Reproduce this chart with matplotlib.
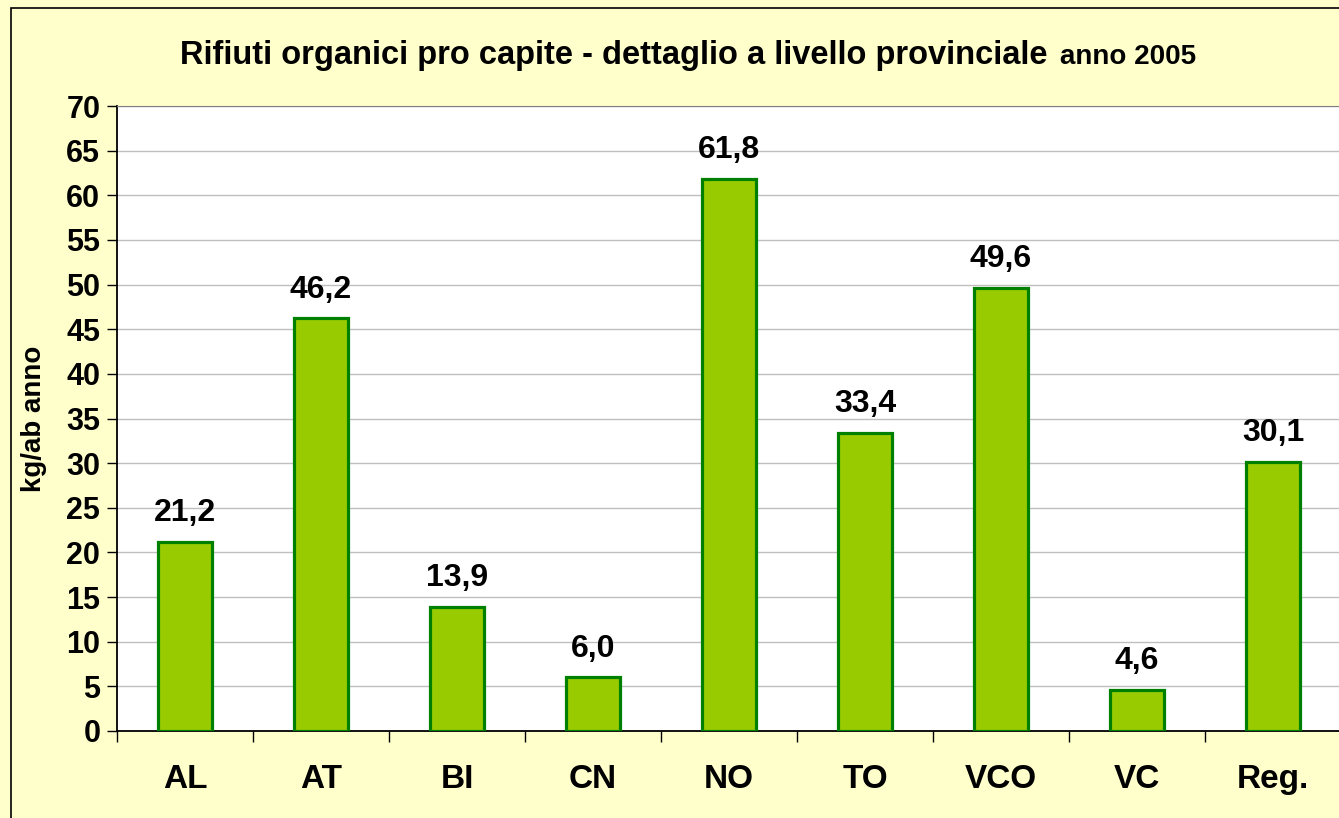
import matplotlib.pyplot as plt
from matplotlib.patches import Rectangle

province = ["AL", "AT", "BI", "CN", "NO", "TO", "VCO", "VC", "Reg."]
valori = [21.2, 46.2, 13.9, 6.0, 61.8, 33.4, 49.6, 4.6, 30.1]
etichette = ["21,2", "46,2", "13,9", "6,0", "61,8", "33,4", "49,6", "4,6", "30,1"]

plt.rcParams['font.family'] = ['Liberation Sans', 'DejaVu Sans']
plt.rcParams['font.weight'] = 'bold'

W, H = 1339, 818
fig = plt.figure(figsize=(W / 100, H / 100), dpi=100, facecolor="#FFFFCC")

# cornice esterna
fig.patches.append(Rectangle((11 / W, -0.05), 1.2, 1 - 8 / H + 0.05, transform=fig.transFigure,
                             fill=False, edgecolor="black", linewidth=1.2, clip_on=False))

ax = fig.add_axes([117 / W, 1 - 731 / H, 1224 / W, 625 / H])
ax.set_facecolor("white")

x = range(len(province))
ax.bar(x, valori, width=0.4, color="#99CC00", edgecolor="#008000", linewidth=2.3, zorder=3)
for i, v in enumerate(valori):
    ax.annotate(etichette[i], (i, v), xytext=(0, 15), textcoords="offset points",
                ha="center", va="baseline", fontsize=23, fontweight="bold")

ax.set_xlim(-0.5, len(province) - 0.5)
ax.set_ylim(0, 70)
ax.set_yticks(range(0, 71, 5))
ax.tick_params(axis="y", labelsize=22, length=7, width=1, direction="out", pad=5)
ax.set_xticks([i + 0.5 for i in range(-1, len(province))])
ax.set_xticklabels([])
ax.tick_params(axis="x", which="major", length=8, width=1, direction="out")
ax.set_xticks(list(x), minor=True)
ax.set_xticklabels(province, minor=True, fontsize=24, fontweight="bold")
ax.tick_params(axis="x", which="minor", length=0, pad=24)
ax.grid(axis="y", color="#BFBFBF", linewidth=1, zorder=0)

ax.spines["top"].set_color("#808080")
ax.spines["right"].set_visible(False)
ax.spines["left"].set_linewidth(1.3)
ax.spines["bottom"].set_linewidth(1.3)

ax.set_ylabel("kg/ab anno", fontsize=20, fontweight="bold")
ax.yaxis.set_label_coords(-0.057, 0.5)

fig.text(1048 / W, 1 - 64 / H, "Rifiuti organici pro capite - dettaglio a livello provinciale",
         ha="right", va="baseline", fontsize=23.5, fontweight="bold")
fig.text(1060 / W, 1 - 64 / H, "anno 2005", ha="left", va="baseline", fontsize=20, fontweight="bold")

fig.savefig("out.png", dpi=100, facecolor=fig.get_facecolor())
